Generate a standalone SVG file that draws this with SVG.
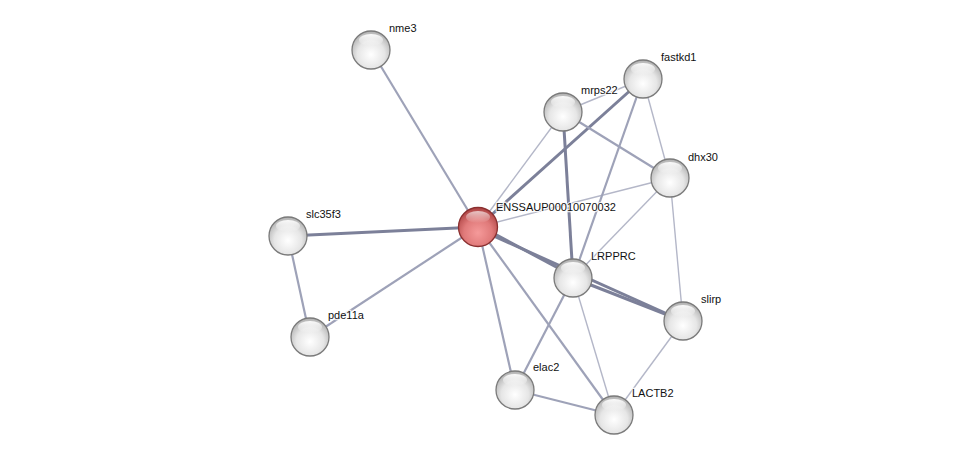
<svg xmlns="http://www.w3.org/2000/svg" width="975" height="460" viewBox="0 0 975 460">
<style>
.e{stroke:#9ea2b8;stroke-width:2.2;fill:none}
.t{stroke:#b4b7c8;stroke-width:1.4}
.k{stroke:#7c8099;stroke-width:3}
.lbl{font-family:"Liberation Sans",Arial,sans-serif;font-size:11px;fill:#111;stroke:#fff;stroke-width:2.5;stroke-opacity:0.8;paint-order:stroke}
.n{fill:url(#g);stroke:#7a7a7a;stroke-width:1.3}
.hl{fill:url(#h)}
</style>
<defs>
<radialGradient id="g" cx="0.5" cy="0.62" r="0.6">
<stop offset="0" stop-color="#ffffff"/>
<stop offset="0.6" stop-color="#e6e6e6"/>
<stop offset="1" stop-color="#b2b2b2"/>
</radialGradient>
<radialGradient id="r" cx="0.5" cy="0.65" r="0.6">
<stop offset="0" stop-color="#f59a9a"/>
<stop offset="0.6" stop-color="#e07a7a"/>
<stop offset="1" stop-color="#b44a4a"/>
</radialGradient>
<linearGradient id="h" x1="0" y1="0" x2="0" y2="1">
<stop offset="0" stop-color="#fff" stop-opacity="0.95"/>
<stop offset="1" stop-color="#fff" stop-opacity="0"/>
</linearGradient>
</defs>
<rect width="975" height="460" fill="#fff"/>
<g id="edges">
<line class="e" x1="478" y1="227" x2="371" y2="50"/>
<line class="e k" x1="478" y1="227" x2="288" y2="236"/>
<line class="e" x1="478" y1="227" x2="310" y2="337"/>
<line class="e" x1="288" y1="236" x2="310" y2="337"/>
<line class="e t" x1="478" y1="227" x2="563" y2="112"/>
<line class="e k" x1="478" y1="227" x2="643" y2="79"/>
<line class="e t" x1="478" y1="227" x2="670" y2="178"/>
<line class="e k" x1="478" y1="225" x2="573" y2="276"/>
<line class="e k" x1="478" y1="229" x2="683" y2="321"/>
<line class="e" x1="478" y1="227" x2="515" y2="390"/>
<line class="e" x1="478" y1="227" x2="614" y2="415"/>
<line class="e t" x1="563" y1="112" x2="643" y2="79"/>
<line class="e" x1="563" y1="112" x2="670" y2="178"/>
<line class="e k" x1="563" y1="112" x2="573" y2="278"/>
<line class="e" x1="643" y1="79" x2="573" y2="278"/>
<line class="e t" x1="643" y1="79" x2="670" y2="178"/>
<line class="e t" x1="670" y1="178" x2="573" y2="278"/>
<line class="e t" x1="670" y1="178" x2="683" y2="321"/>
<line class="e k" x1="573" y1="278" x2="683" y2="321"/>
<line class="e" x1="573" y1="278" x2="515" y2="390"/>
<line class="e t" x1="573" y1="278" x2="614" y2="415"/>
<line class="e t" x1="683" y1="321" x2="614" y2="415"/>
<line class="e" x1="515" y1="390" x2="614" y2="415"/>
</g>
<g id="nme3"><circle class="n" cx="371" cy="50" r="19"/><ellipse class="hl" cx="371" cy="40" rx="12" ry="6"/><text class="lbl" x="389" y="32">nme3</text></g>
<g id="fastkd1"><circle class="n" cx="643" cy="79" r="19"/><ellipse class="hl" cx="643" cy="69" rx="12" ry="6"/><text class="lbl" x="661" y="61">fastkd1</text></g>
<g id="mrps22"><circle class="n" cx="563" cy="112" r="19"/><ellipse class="hl" cx="563" cy="102" rx="12" ry="6"/><text class="lbl" x="581" y="94">mrps22</text></g>
<g id="dhx30"><circle class="n" cx="670" cy="178" r="19"/><ellipse class="hl" cx="670" cy="168" rx="12" ry="6"/><text class="lbl" x="688" y="161">dhx30</text></g>
<g id="slc35f3"><circle class="n" cx="288" cy="236" r="19"/><ellipse class="hl" cx="288" cy="226" rx="12" ry="6"/><text class="lbl" x="306" y="218">slc35f3</text></g>
<g id="LRPPRC"><circle class="n" cx="573" cy="278" r="19"/><ellipse class="hl" cx="573" cy="268" rx="12" ry="6"/><text class="lbl" x="591" y="260">LRPPRC</text></g>
<g id="slirp"><circle class="n" cx="683" cy="321" r="19"/><ellipse class="hl" cx="683" cy="311" rx="12" ry="6"/><text class="lbl" x="701" y="303">slirp</text></g>
<g id="pde11a"><circle class="n" cx="310" cy="337" r="19"/><ellipse class="hl" cx="310" cy="327" rx="12" ry="6"/><text class="lbl" x="328" y="319">pde11a</text></g>
<g id="elac2"><circle class="n" cx="515" cy="390" r="19"/><ellipse class="hl" cx="515" cy="380" rx="12" ry="6"/><text class="lbl" x="533" y="371">elac2</text></g>
<g id="LACTB2"><circle class="n" cx="614" cy="415" r="19"/><ellipse class="hl" cx="614" cy="405" rx="12" ry="6"/><text class="lbl" x="632" y="397">LACTB2</text></g>
<g id="ENSSAUP00010070032"><circle cx="478" cy="227" r="19.5" fill="url(#r)" stroke="#8a2f2f" stroke-width="1.3"/><ellipse class="hl" cx="478" cy="217" rx="12" ry="6" opacity="0.7"/><text class="lbl" x="496" y="211">ENSSAUP00010070032</text></g>
</svg>
